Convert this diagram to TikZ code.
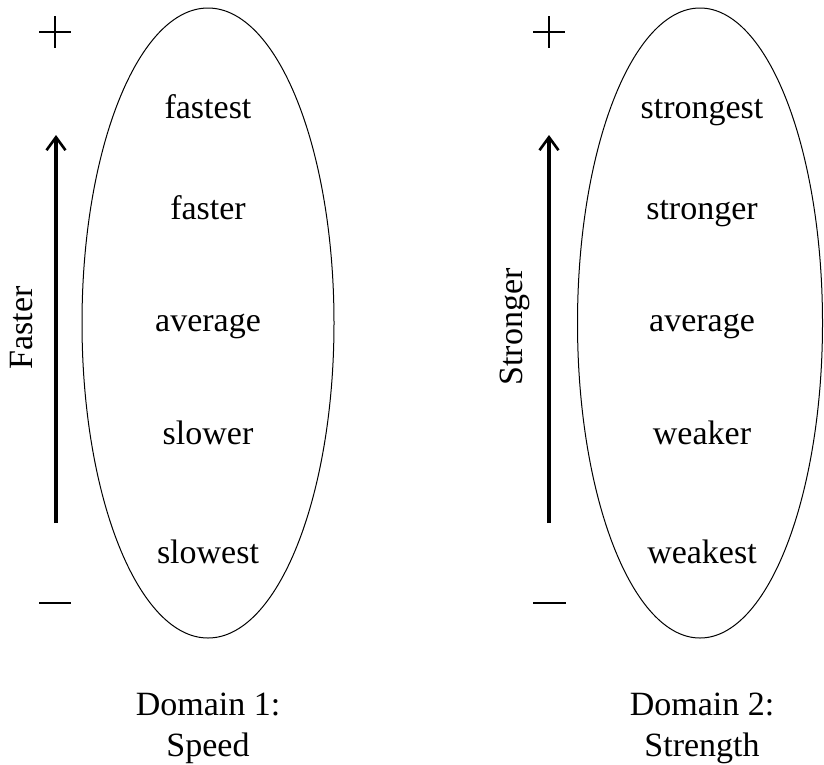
\documentclass[tikz,border=0pt]{standalone}
\usepackage{fontspec}
\setmainfont{Liberation Serif}
\usetikzlibrary{shapes.geometric,arrows.meta}
\begin{document}
\begin{tikzpicture}[x=1pt,y=-1pt,
  lbl/.style={font=\fontsize{34}{40}\selectfont, anchor=base, inner sep=0pt},
  oval/.style={ellipse, draw, line width=1pt, inner sep=0pt},
  bigarrow/.style={line width=3.2pt, -{Straight Barb[length=13pt,width=19pt,line width=2.6pt]}},
  sign/.style={line width=1.6pt}]
\useasboundingbox (0,0) rectangle (824,764);
% Domain 1
\node[oval, minimum width=252pt, minimum height=630pt] (e1) at (208,323) {};
\node[lbl] (l11) at (208,118) {fastest};
\node[lbl] (l12) at (208,219) {faster};
\node[lbl] (l13) at (208,331) {average};
\node[lbl] (l14) at (208,444) {slower};
\node[lbl] (l15) at (208,563) {slowest};
\node[lbl] (d1a) at (208,715) {Domain 1:};
\node[lbl] (d1b) at (208,756) {Speed};
\coordinate (a1s) at (56,523);
\coordinate (a1e) at (56,135);
\draw[bigarrow] (a1s) -- (a1e);
\node[font=\fontsize{34}{40}\selectfont, rotate=90, inner sep=0pt] (f1) at (22,328) {Faster};
\coordinate (p1l) at (39,32); \coordinate (p1r) at (71,32);
\coordinate (p1t) at (55,16); \coordinate (p1b) at (55,48);
\draw[sign] (p1l) -- (p1r); \draw[sign] (p1t) -- (p1b);
\coordinate (m1l) at (39,603); \coordinate (m1r) at (71,603);
\draw[sign] (m1l) -- (m1r);
% Domain 2
\node[oval, minimum width=245pt, minimum height=630pt] (e2) at (700,323) {};
\node[lbl] (l21) at (702,118) {strongest};
\node[lbl] (l22) at (702,219) {stronger};
\node[lbl] (l23) at (702,331) {average};
\node[lbl] (l24) at (702,444) {weaker};
\node[lbl] (l25) at (702,563) {weakest};
\node[lbl] (d2a) at (702,715) {Domain 2:};
\node[lbl] (d2b) at (702,756) {Strength};
\coordinate (a2s) at (549,523);
\coordinate (a2e) at (549,135);
\draw[bigarrow] (a2s) -- (a2e);
\node[font=\fontsize{34}{40}\selectfont, rotate=90, inner sep=0pt] (f2) at (515,327) {Stronger};
\coordinate (p2l) at (533,32); \coordinate (p2r) at (565,32);
\coordinate (p2t) at (549,16); \coordinate (p2b) at (549,48);
\draw[sign] (p2l) -- (p2r); \draw[sign] (p2t) -- (p2b);
\coordinate (m2l) at (533,603); \coordinate (m2r) at (566,603);
\draw[sign] (m2l) -- (m2r);
\end{tikzpicture}
\end{document}
